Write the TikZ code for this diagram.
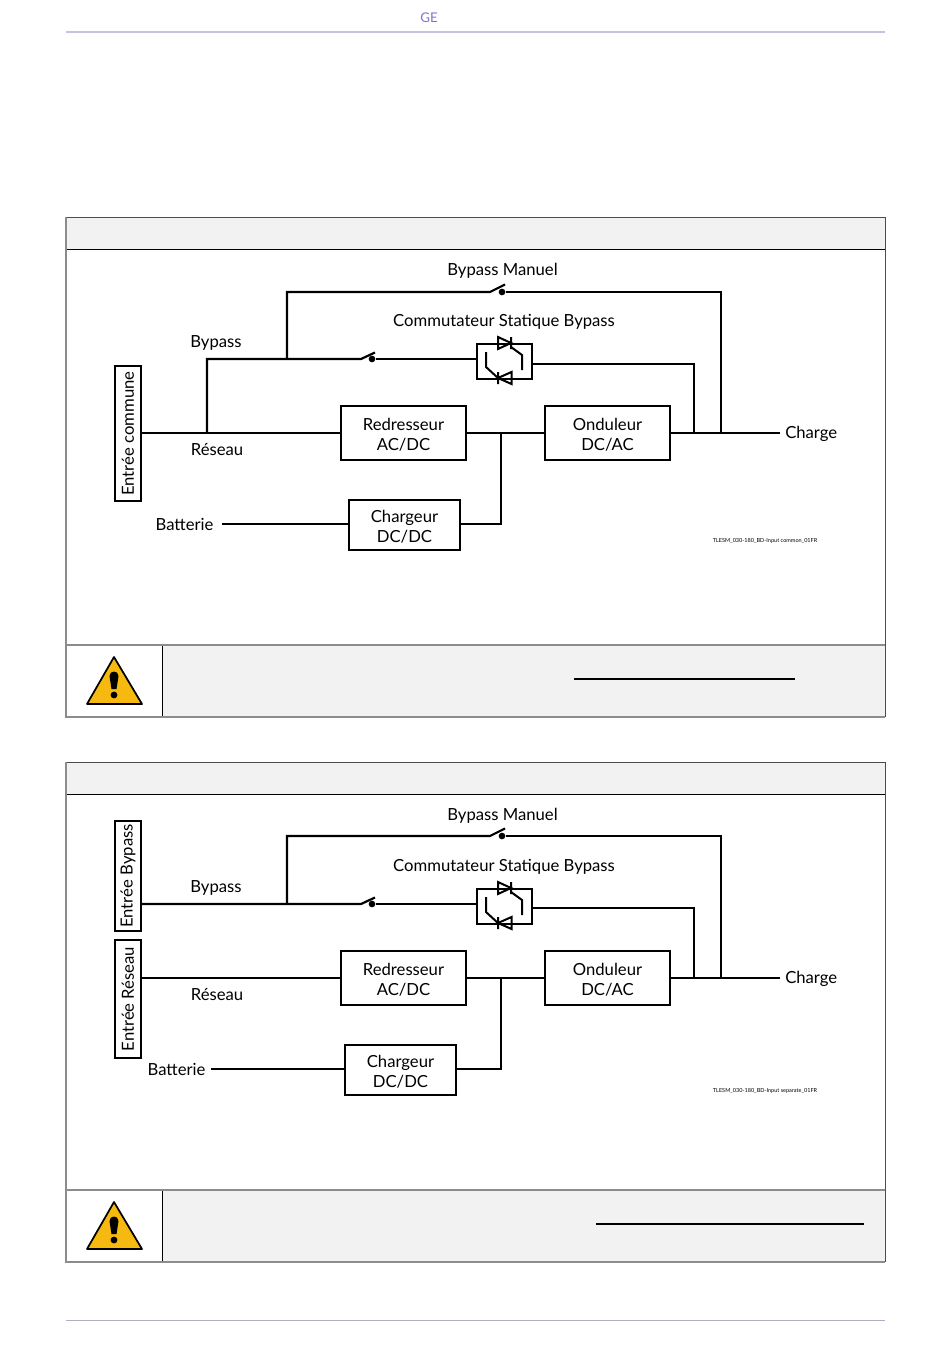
\documentclass[tikz,border=0pt]{standalone}
\usepackage{fontspec}
\setmainfont{Lato}
\usetikzlibrary{positioning,calc}
\definecolor{cellgray}{HTML}{F2F2F2}
\definecolor{framegray}{HTML}{8C8C8C}
\definecolor{rulelav}{HTML}{C4C4E0}
\definecolor{warnyellow}{HTML}{F5B90F}
\newcommand{\blockstrut}{\rule{0pt}{11.5pt}}
\begin{document}
\begin{tikzpicture}[x=0.75pt,y=-0.75pt,
  every node/.style={font=\fontsize{12.5}{15}\selectfont,inner sep=0pt},
  wire/.style={line width=1.65pt,line join=miter},
  blockbox/.style={draw,line width=1.4pt,align=center,minimum height=40.5pt,minimum width=93.75pt},
  chargebox/.style={draw,line width=1.4pt,align=center,minimum height=37.5pt,minimum width=83.25pt},
  inbox/.style={draw,line width=1.65pt,rotate=90,minimum height=19.5pt},
  ssbox/.style={draw,line width=1.5pt,minimum width=41.25pt,minimum height=26.25pt},
  lbl/.style={text=black},
  dot/.style={circle,fill=black,minimum size=5pt}]
\useasboundingbox (0,0) rectangle (950,1369);
% page rules
\node[text=rulelav!60!blue!70!gray,font=\fontsize{10}{12}\selectfont] (ge) at (429,18) {GE};
\draw[rulelav,line width=1pt] (66,32) -- (885,32);
\draw[rulelav!70!gray,line width=0.7pt] (66,1320) -- (885,1320);
% frames
\foreach \dy/\ux/\uy in {0/574/795,545/596/864} {
  \fill[cellgray] (66,217+\dy) rectangle (885,249+\dy);
  \fill[cellgray] (162,645+\dy) rectangle (885,717+\dy);
  \draw[black,line width=0.7pt] (66,249+\dy) -- (885,249+\dy) (162,645+\dy) -- (162,717+\dy);
  \draw[black!70,line width=0.6pt] (66,217+\dy) -- (885,217+\dy) -- (885,717+\dy);
  \draw[framegray,line width=1pt] (66,217+\dy) -- (66,717+\dy) -- (885,717+\dy) (66,645+\dy) -- (885,645+\dy);
  \draw[black,line width=1.3pt] (\ux,679+\dy) -- (\uy,679+\dy);
  % warning sign
  \draw[fill=warnyellow,line width=1.3pt,line join=round] (114,657+\dy) -- (142,704+\dy) -- (87,704+\dy) -- cycle;
  \fill[black] (109.5,676+\dy) .. controls (109.5,670+\dy) and (118.5,670+\dy) .. (118.5,676+\dy) -- (116.5,689+\dy) -- (111.5,689+\dy) -- cycle;
  \fill[black] (114,695+\dy) circle (3.4);
}
% common input
\node[inbox,minimum width=101.25pt] (incom) at (128,433.5) {Entrée commune};
\node[blockbox] (rect1) at (403.5,433) {\blockstrut Redresseur\\AC/DC};
\node[blockbox] (ond1) at (607.5,433) {\blockstrut Onduleur\\DC/AC};
\node[chargebox] (chg1) at (404.5,525) {\blockstrut Chargeur\\DC/DC};
\node[ssbox] (ss1) at (504.5,361) {};
\node[lbl] (bat1) at (184.5,524.5) {Batterie};
\node[lbl,anchor=west] (load1) at (785,434) {Charge};
\node[lbl] (lman1) at (502.5,271) {Bypass Manuel};
\node[lbl] (lss1) at (504,322) {Commutateur Statique Bypass};
\node[lbl] (lby1) at (216,343) {Bypass};
\node[lbl] (lres1) at (217,450) {Réseau};
\node[font=\fontsize{4.15}{5}\selectfont] (ref1) at (765,541) {TLESM\_030-180\_BD-Input common\_01FR};
\coordinate (ja1) at (207,433);
\coordinate (jb1) at (207,359);
\coordinate (jc1) at (287,359);
\coordinate (jd1) at (287,292);
\coordinate (je1) at (721,292);
\coordinate (jf1) at (721,433);
\coordinate (jg1) at (694,364);
\coordinate (jh1) at (694,433);
\coordinate (ji1) at (501,433);
\coordinate (jj1) at (501,524);
\coordinate (jk1) at (780,433);
\coordinate (jl1) at (222,524);
\coordinate (sa1) at (361,359);
\coordinate (sb1) at (375,352.5);
\coordinate (sc1) at (490,292);
\coordinate (sd1) at (505,284.5);
\node[dot] (da1) at (372,359) {};
\node[dot] (db1) at (502,292) {};
\draw[wire] (incom.south |- rect1) -- (rect1.west);
\draw[wire] (rect1.east) -- (ond1.west);
\draw[wire] (ond1.east) -- (jk1);
\draw[wire] (ja1) -- (jb1) -- (sa1) -- (sb1);
\draw[wire] (da1) -- (ss1.west |- da1);
\draw[wire] (jc1) -- (jd1) -- (sc1) -- (sd1);
\draw[wire] (db1) -- (je1) -- (jf1);
\draw[wire] (ss1.east |- jg1) -- (jg1) -- (jh1);
\draw[wire] (jl1) -- (chg1.west |- jl1);
\draw[wire] (chg1.east |- jj1) -- (jj1) -- (ji1);
% separate input
\node[inbox,minimum width=82.5pt] (inby) at (128,876) {Entrée Bypass};
\node[inbox,minimum width=88.5pt] (inres) at (128,999) {Entrée Réseau};
\node[blockbox] (rect2) at (403.5,978) {\blockstrut Redresseur\\AC/DC};
\node[blockbox] (ond2) at (607.5,978) {\blockstrut Onduleur\\DC/AC};
\node[chargebox] (chg2) at (400.5,1070) {\blockstrut Chargeur\\DC/DC};
\node[ssbox] (ss2) at (504.5,906) {};
\node[lbl] (bat2) at (176.5,1069.5) {Batterie};
\node[lbl,anchor=west] (load2) at (785,979) {Charge};
\node[lbl] (lman2) at (502.5,815.5) {Bypass Manuel};
\node[lbl] (lss2) at (504,866.5) {Commutateur Statique Bypass};
\node[lbl] (lby2) at (216,887.5) {Bypass};
\node[lbl] (lres2) at (217,995) {Réseau};
\node[font=\fontsize{4.15}{5}\selectfont] (ref2) at (765,1091) {TLESM\_030-180\_BD-Input separate\_01FR};
\coordinate (jb2) at (141,904);
\coordinate (jc2) at (287,904);
\coordinate (jd2) at (287,836);
\coordinate (je2) at (721,836);
\coordinate (jf2) at (721,978);
\coordinate (jg2) at (694,908);
\coordinate (jh2) at (694,978);
\coordinate (ji2) at (501,978);
\coordinate (jj2) at (501,1069);
\coordinate (jk2) at (780,978);
\coordinate (jl2) at (211,1069);
\coordinate (sa2) at (361,904);
\coordinate (sb2) at (375,897.5);
\coordinate (sc2) at (490,836);
\coordinate (sd2) at (505,828.5);
\node[dot] (da2) at (372,904) {};
\node[dot] (db2) at (502,836) {};
\draw[wire] (jb2) -- (sa2) -- (sb2);
\draw[wire] (inres.south |- rect2) -- (rect2.west);
\draw[wire] (rect2.east) -- (ond2.west);
\draw[wire] (ond2.east) -- (jk2);
\draw[wire] (da2) -- (ss2.west |- da2);
\draw[wire] (jc2) -- (jd2) -- (sc2) -- (sd2);
\draw[wire] (db2) -- (je2) -- (jf2);
\draw[wire] (ss2.east |- jg2) -- (jg2) -- (jh2);
\draw[wire] (jl2) -- (chg2.west |- jl2);
\draw[wire] (chg2.east |- jj2) -- (jj2) -- (ji2);
% thyristors
\foreach \n in {ss1,ss2} {
  \begin{scope}[shift={(\n.center)},wire,line width=1.5pt]
    \draw (-6.5,-24) -- (6.5,-18) -- (-6.5,-12) -- cycle (6.5,-24) -- (6.5,-12);
    \draw (6.5,-14) -- (17.5,-6) -- (17.5,9);
    \draw (7,11) -- (-6.5,17) -- (7,23) -- cycle (-6.5,11) -- (-6.5,23);
    \draw (-6.5,17) -- (-18.5,6) -- (-18.5,-9);
  \end{scope}
}
\end{tikzpicture}
\end{document}
